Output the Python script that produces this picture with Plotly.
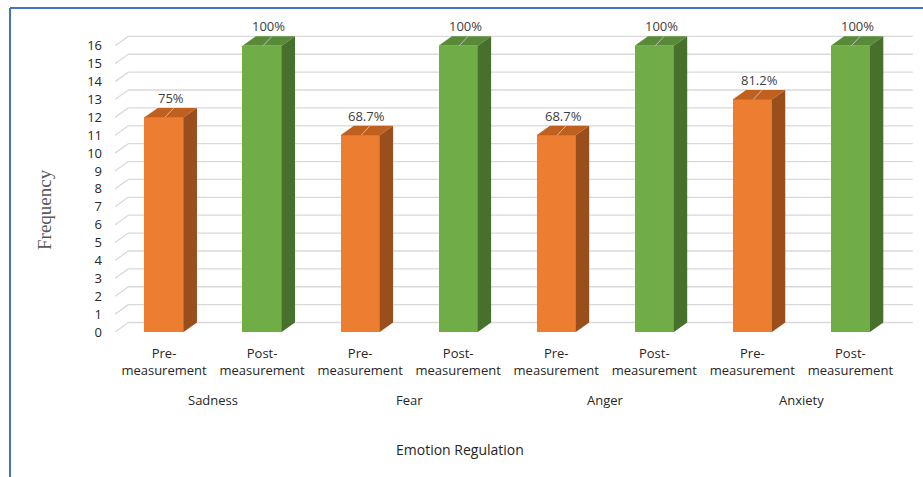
import plotly.graph_objects as go

# ---- data ----
emotions = ["Sadness", "Fear", "Anger", "Anxiety"]
phase_labels = ["Pre-<br>measurement", "Post-<br>measurement"]
pre_values = [12, 11, 11, 13]
post_values = [16, 16, 16, 16]
pre_pct = ["75%", "68.7%", "68.7%", "81.2%"]
post_pct = ["100%", "100%", "100%", "100%"]
y_ticks = list(range(0, 17))

# ---- style ----
BAR_W = 0.4
DX = 0.136   # 3D depth (x, category units)
DY = 0.53    # 3D depth (y, value units)
X0, X1 = -0.5, 7.7
Y0, Y1 = 0, 17.5
ORANGE = ("#ED7D31", "#C0601F", "#9A4E1B")   # front, top, side
GREEN = ("#70AD47", "#588A37", "#46702B")
FONT = "Open Sans"

positions, values, pcts, colors = [], [], [], []
for i in range(len(emotions)):
    positions += [2 * i, 2 * i + 1]
    values += [pre_values[i], post_values[i]]
    pcts += [pre_pct[i], post_pct[i]]
    colors += [ORANGE, GREEN]
ticktext = phase_labels * len(emotions)

fig = go.Figure()

# front faces
fig.add_trace(go.Bar(
    x=positions, y=values, width=BAR_W,
    marker=dict(color=[c[0] for c in colors], line=dict(width=0)),
    hoverinfo="x+y", showlegend=False,
))

# top and side faces
for x, v, c in zip(positions, values, colors):
    l, r = x - BAR_W / 2, x + BAR_W / 2
    fig.add_trace(go.Scatter(
        x=[l, l + DX, r + DX, r, l], y=[v, v + DY, v + DY, v, v],
        fill="toself", fillcolor=c[1], mode="lines", line=dict(width=0),
        hoverinfo="skip", showlegend=False))
    fig.add_trace(go.Scatter(
        x=[r, r + DX, r + DX, r, r], y=[0, DY, v + DY, v, 0],
        fill="toself", fillcolor=c[2], mode="lines", line=dict(width=0),
        hoverinfo="skip", showlegend=False))
    # leader line from data label
    fig.add_trace(go.Scatter(
        x=[x + 0.10, x + 0.01], y=[v + DY, v],
        mode="lines", line=dict(width=1, color="#BFBFBF"),
        hoverinfo="skip", showlegend=False))

# gridlines (back wall + left wall diagonals)
shapes = []
for t in y_ticks:
    shapes.append(dict(type="line", xref="x", yref="y", layer="below",
                       x0=-0.5, y0=t, x1=-0.5 + DX, y1=t + DY,
                       line=dict(color="#D9D9D9", width=1.3)))
    shapes.append(dict(type="line", xref="x", yref="y", layer="below",
                       x0=-0.5 + DX, y0=t + DY, x1=7.5 + DX, y1=t + DY,
                       line=dict(color="#D9D9D9", width=1.3)))

# chart border (blue, top and left)
shapes.append(dict(type="line", xref="paper", yref="paper",
                   x0=-0.1306, y0=1.035, x1=1.05, y1=1.035,
                   line=dict(color="#4472C4", width=2)))
shapes.append(dict(type="line", xref="paper", yref="paper",
                   x0=-0.1306, y0=1.035, x1=-0.1306, y1=-0.6,
                   line=dict(color="#4472C4", width=2)))

annotations = []
for x, v, p in zip(positions, values, pcts):
    annotations.append(dict(x=x + 0.07, y=v + 1.1, xref="x", yref="y",
                            text=p, showarrow=False,
                            font=dict(family=FONT, size=13, color="#404040")))
for i, e in enumerate(emotions):
    annotations.append(dict(x=2 * i + 0.5, y=-0.217, xref="x", yref="paper",
                            text=e, showarrow=False, yanchor="middle",
                            font=dict(family=FONT, size=13, color="#262626")))
annotations.append(dict(x=0.429, y=-0.374, xref="paper", yref="paper",
                        text="Emotion Regulation", showarrow=False,
                        yanchor="middle",
                        font=dict(family=FONT, size=14, color="#262626")))
annotations.append(dict(x=-0.087, y=0.39, xref="paper", yref="paper",
                        text="Frequency", showarrow=False, textangle=-90,
                        xanchor="center", yanchor="middle",
                        font=dict(family="Liberation Serif", size=19,
                                  color="#595959")))

fig.update_layout(
    width=923, height=477,
    margin=dict(l=115, r=4, t=19, b=145),
    paper_bgcolor="white", plot_bgcolor="white",
    shapes=shapes, annotations=annotations,
    xaxis=dict(range=[X0, X1], tickvals=positions, ticktext=ticktext,
               showgrid=False, zeroline=False, showline=False,
               ticklabelstandoff=12,
               tickfont=dict(family=FONT, size=13, color="#262626"),
               ticks="", fixedrange=True),
    yaxis=dict(range=[Y0, Y1], tickvals=y_ticks, showgrid=False,
               zeroline=False, showline=False, ticks="",
               ticklabelstandoff=12,
               tickfont=dict(family=FONT, size=13, color="#262626"),
               fixedrange=True),
    bargap=0, showlegend=False,
)

fig.write_html("out.html")
